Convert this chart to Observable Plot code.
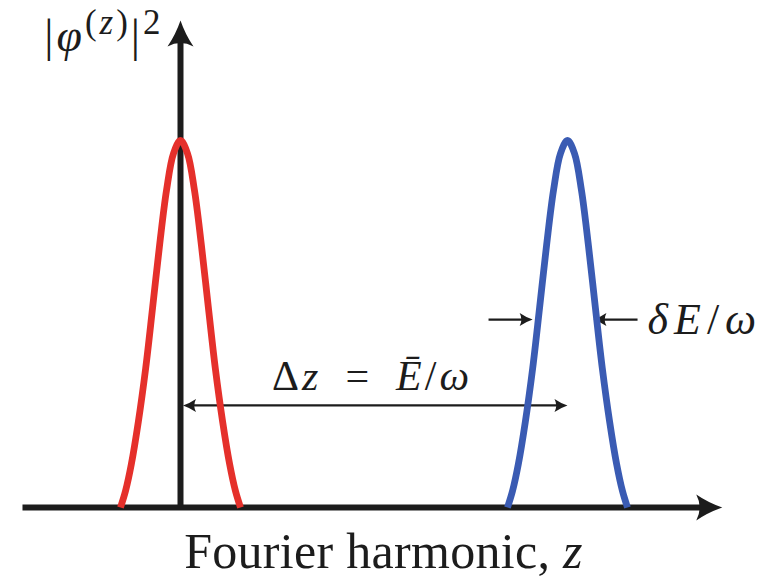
<!DOCTYPE html>
<html>
<head>
<meta charset="utf-8">
<script src="https://cdn.jsdelivr.net/npm/d3@7"></script>
<script src="https://cdn.jsdelivr.net/npm/@observablehq/plot@0.6"></script>
<style>
  html, body { margin: 0; padding: 0; background: #fff; }
  #chart svg { display: block; }
</style>
</head>
<body>
<div id="chart"></div>
<script>
// Harmonic offsets from a band centre and the normalised weight |φ|² there.
const offsets = [-1.55, -1.42, -1.27, -1.09, -0.90, -0.72, -0.54, -0.36, -0.18, 0,
                 0.18, 0.36, 0.54, 0.72, 0.90, 1.09, 1.27, 1.42, 1.55];
const weights = [0, 0.045, 0.118, 0.233, 0.379, 0.545, 0.715, 0.865, 0.965, 1,
                 0.965, 0.865, 0.715, 0.545, 0.379, 0.233, 0.118, 0.045, 0];

// The two bands: the original one at z = 0 and the shifted one.
const peakNames = ["initial", "shifted"];
const peakCentres = [0, 10];
const peakColors = ["#e5302b", "#3a5bb3"];

// Extent of the drawn axes (harmonic number and weight units).
const zAxisStart = -4.07;
const zAxisEnd = 14.0;
const weightAxisTop = 1.327;

// Width marker: height at which δE/ω is shown, arrow tips and tails.
const spreadLevel = 0.512;
const spreadTips = [9.10, 10.67];
const spreadTails = [7.96, 11.81];

// Height of the Δz arrow between the band centres.
const shiftLevel = 0.278;

// Labels (with *italic* and ^{superscript} markup).
const yLabel = "|*φ*^{(*z*)}|^{2}";
const xLabel = "Fourier harmonic, *z*";
const shiftLabel = "Δ*z*\u2002=\u2002*Ē*/*ω*";
const spreadLabel = "*δE*/*ω*";

// Extra tracking per label, in pixels.
const tracking = new Map([[yLabel, 3], [shiftLabel, 3], [spreadLabel, 6], [xLabel, 0.3]]);

const table = peakNames.flatMap((name, k) =>
  offsets.map((o, i) => ({peak: name, z: peakCentres[k] + o, w: weights[i]}))
);

// Filled LaTeX-style arrow head, tip at the origin pointing along +x.
function latexHead(length, width) {
  return {
    draw(ctx) {
      const L = length, W = width / 2;
      ctx.moveTo(0, 0);
      ctx.quadraticCurveTo(-L * 0.55, -W * 0.38, -L, -W);
      ctx.quadraticCurveTo(-L * 0.74, 0, -L, W);
      ctx.quadraticCurveTo(-L * 0.55, W * 0.38, 0, 0);
      ctx.closePath();
    }
  };
}

const ink = "#1c1c1c";
const serif = "'Liberation Serif', 'DejaVu Serif', serif";
const bigHead = latexHead(26, 26);
const smallHead = latexHead(13, 13);

const chart = Plot.plot({
  width: 775,
  height: 582,
  margin: 0,
  x: {domain: [-4.651, 15.375], axis: null},
  y: {domain: [-0.2044, 1.3815], axis: null},
  color: {domain: peakNames, range: peakColors},
  style: {background: "#fff"},
  marks: [
    // axes with arrow heads
    Plot.ruleY([0], {x1: zAxisStart, x2: zAxisEnd, stroke: ink, strokeWidth: 6, insetRight: 12}),
    Plot.ruleX([0], {y1: weightAxisTop, y2: 0, stroke: ink, strokeWidth: 6, insetTop: 12}),
    Plot.dot([0], {x: zAxisEnd, y: 0, symbol: bigHead, fill: ink, stroke: "none"}),
    Plot.dot([0], {x: 0, y: weightAxisTop, symbol: bigHead, rotate: -90, fill: ink, stroke: "none"}),

    // Δz between the band centres
    Plot.arrow([0], {x1: peakCentres[0], x2: peakCentres[1], y1: shiftLevel, y2: shiftLevel,
      stroke: ink, strokeWidth: 2.2, headLength: 0, insetStart: 9, insetEnd: 7, strokeLinecap: "butt"}),
    Plot.dot([0], {x: peakCentres[0], y: shiftLevel, dx: 2.5, symbol: smallHead, rotate: 180, fill: ink, stroke: "none"}),
    Plot.dot([0], {x: peakCentres[1], y: shiftLevel, symbol: smallHead, fill: ink, stroke: "none"}),

    // δE/ω width arrows
    Plot.arrow([0, 1], {x1: i => spreadTails[i], x2: i => spreadTips[i], y1: spreadLevel, y2: spreadLevel,
      stroke: ink, strokeWidth: 2.2, headLength: 0, insetEnd: 7, strokeLinecap: "butt"}),
    Plot.dot([0, 1], {x: i => spreadTips[i], y: spreadLevel, symbol: smallHead,
      rotate: i => (i === 0 ? 0 : 180), fill: ink, stroke: "none"}),

    // the two bands
    Plot.line(table, {x: "z", y: "w", z: "peak", stroke: "peak", strokeWidth: 6.8,
      curve: "catmull-rom", strokeLinecap: "butt", strokeLinejoin: "round"}),

    // labels
    Plot.text([yLabel], {x: 0, y: 1.284, text: d => d, dx: -17, textAnchor: "end",
      fontSize: 46, fontFamily: serif, fill: ink}),
    Plot.text([shiftLabel], {x: 4.95, y: 0.357, text: d => d,
      fontSize: 42, fontFamily: serif, fill: ink}),
    Plot.text([spreadLabel], {x: spreadTails[1], y: spreadLevel, text: d => d, dx: 10, textAnchor: "start",
      fontSize: 44, fontFamily: serif, fill: ink}),
    Plot.text([xLabel], {x: 5.245, y: -0.1226, text: d => d,
      fontSize: 50, fontFamily: serif, fill: ink})
  ]
});

document.getElementById("chart").append(chart);

// Turn the small *italic* / ^{superscript} markup into tspans.
function parseMarkup(s) {
  const segs = [];
  let italic = false, sup = false, buf = "";
  const push = () => { if (buf) segs.push({text: buf, italic, sup}); buf = ""; };
  for (let i = 0; i < s.length; i++) {
    const c = s[i];
    if (c === "*") { push(); italic = !italic; }
    else if (c === "^" && s[i + 1] === "{") { push(); sup = true; i++; }
    else if (c === "}" && sup) { push(); sup = false; }
    else buf += c;
  }
  push();
  return segs;
}

d3.select(chart).selectAll("text").each(function () {
  const raw = this.textContent;
  if (tracking.has(raw)) this.style.letterSpacing = tracking.get(raw) + "px";
  if (!/[*^]/.test(raw)) return;
  const fs = parseFloat(getComputedStyle(this).fontSize);
  const shift = 0.38 * fs;
  this.textContent = "";
  let raised = false;
  for (const seg of parseMarkup(raw)) {
    const t = d3.select(this).append("tspan").text(seg.text);
    if (seg.italic) t.attr("font-style", "italic");
    if (seg.sup !== raised) { t.attr("dy", seg.sup ? -shift : shift); raised = seg.sup; }
    if (seg.sup) t.attr("font-size", 0.76 * fs);
  }
});
</script>
</body>
</html>
